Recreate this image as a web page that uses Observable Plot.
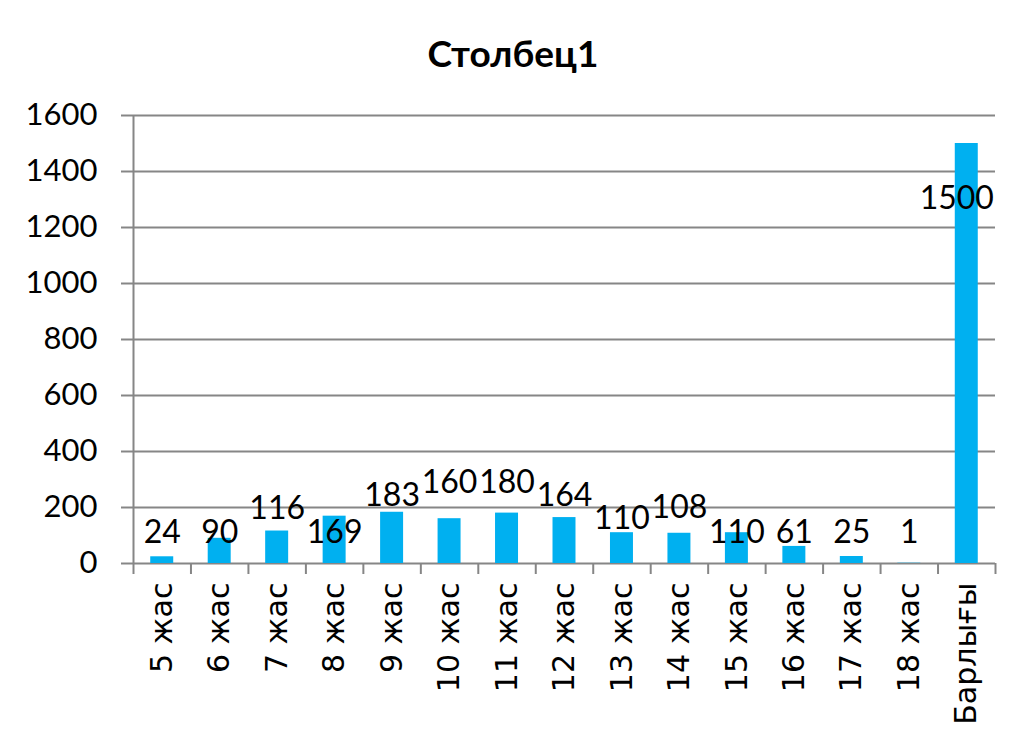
<!DOCTYPE html>
<html>
<head>
<meta charset="utf-8">
<script src="https://cdn.jsdelivr.net/npm/d3@7"></script>
<script src="https://cdn.jsdelivr.net/npm/@observablehq/plot@0.6"></script>
<style>
  html, body { margin: 0; padding: 0; background: #fff; }
  #title { height: 55px; padding-top: 30px; line-height: 44px; text-align: center; font: bold 37px Lato, sans-serif; color: #000; }
  #chart svg { display: block; }
</style>
</head>
<body>
<div id="title">Столбец1</div>
<div id="chart"></div>
<script>
const categories = ["5 жас","6 жас","7 жас","8 жас","9 жас","10 жас","11 жас","12 жас","13 жас","14 жас","15 жас","16 жас","17 жас","18 жас","Барлығы"];
const values = [24, 90, 116, 169, 183, 160, 180, 164, 110, 108, 110, 61, 25, 1, 1500];
// where each data label sits (in value units), as placed in the original chart
const labelAt = [111, 111, 196, 111, 243, 289, 289, 243, 161, 200, 111, 111, 111, 111, 1304];
const yTicks = [0, 200, 400, 600, 800, 1000, 1200, 1400, 1600];

const data = categories.map((c, i) => ({cat: c, value: values[i], labelY: labelAt[i], last: i === categories.length - 1}));

const W = 1026, H = 662, mL = 133, mR = 31, mT = 30, mB = 184;
const step = (W - mL - mR) / categories.length;
const gray = "#868686";

const chart = Plot.plot({
  width: W,
  height: H,
  marginLeft: mL,
  marginRight: mR,
  marginTop: mT,
  marginBottom: mB,
  x: {domain: categories, paddingInner: 0.6, paddingOuter: 0.3, round: false, axis: null, label: null},
  y: {domain: [0, 1600], axis: null, label: null},
  marks: [
    Plot.gridY(yTicks, {stroke: gray, strokeOpacity: 1, strokeWidth: 2}),
    Plot.axisY(yTicks, {anchor: "left", label: null, tickSize: 12, tickPadding: 24, stroke: gray, strokeWidth: 2, fontSize: 31, fontFamily: "Lato, sans-serif", fill: "#000", tickFormat: d => String(d)}),
    Plot.ruleX([categories[0]], {x: d => d, y1: 0, y2: 1600, dx: -step / 2, stroke: gray, strokeWidth: 2}),
    Plot.barY(data, {x: "cat", y: "value", fill: "#00B0F0"}),
    Plot.axisX({anchor: "bottom", label: null, tickSize: 11, tickFormat: () => "", dx: -step / 2, stroke: gray, strokeWidth: 2}),
    Plot.axisX([categories[categories.length - 1]], {anchor: "bottom", label: null, tickSize: 11, tickFormat: () => "", dx: step / 2, stroke: gray, strokeWidth: 2}),
    Plot.axisX({anchor: "bottom", label: null, tickSize: 0, tickRotate: -90, tickPadding: 19, textAnchor: "end", fontSize: 30, fontFamily: "DejaVu Sans, sans-serif", fill: "#000", tickFormat: d => d}),
    Plot.text(data.filter(d => !d.last), {x: "cat", y: "labelY", text: d => String(d.value), fontSize: 32, fontFamily: "Lato, sans-serif", fill: "#000"}),
    Plot.text(data.filter(d => d.last), {x: "cat", y: "labelY", text: d => String(d.value), dx: -10, fontSize: 32, fontFamily: "Lato, sans-serif", fill: "#000"})
  ]
});
document.getElementById("chart").appendChild(chart);
</script>
</body>
</html>
